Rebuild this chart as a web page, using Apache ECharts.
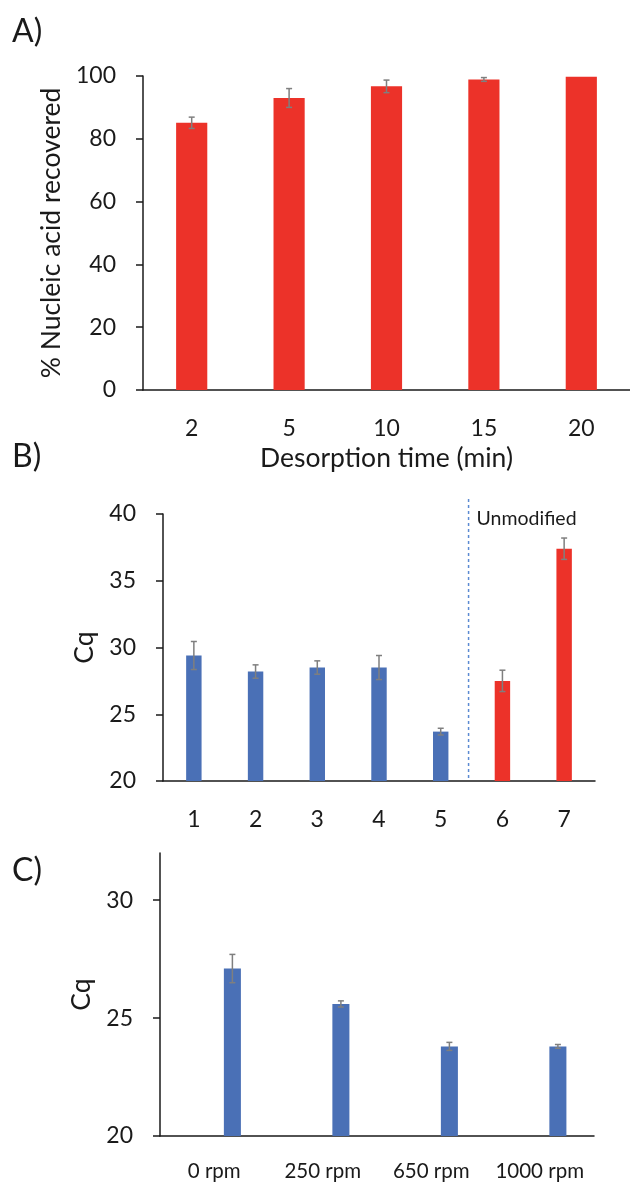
<!DOCTYPE html>
<html>
<head>
<meta charset="utf-8">
<script src="https://cdn.jsdelivr.net/npm/echarts@6/dist/echarts.min.js"></script>
<style>
  html, body { margin: 0; padding: 0; background: #fff; }
  #chart { width: 630px; height: 1182px; }
</style>
</head>
<body>
<div id="chart"></div>
<script>
// A) desorption time
var timeLabels = ['2', '5', '10', '15', '20'];
var recovered = [85.1, 93.0, 96.7, 98.9, 99.8];
var recoveredErr = [1.8, 3.0, 2.0, 0.6, 0];

// B) samples, the last two are unmodified
var sampleLabels = ['1', '2', '3', '4', '5', '6', '7'];
var cqSample = [29.4, 28.2, 28.5, 28.5, 23.7, 27.5, 37.4];
var cqSampleErr = [1.05, 0.5, 0.5, 0.9, 0.25, 0.8, 0.8];
var isUnmodified = [false, false, false, false, false, true, true];

// C) shaking speed
var speedLabels = ['0 rpm', '250 rpm', '650 rpm', '1000 rpm'];
var cqSpeed = [27.1, 25.6, 23.8, 23.8];
var cqSpeedErr = [0.6, 0.13, 0.17, 0.08];
var cqSpeedTicks = [20, 25, 30];

var RED = '#EC3229', BLUE = '#4A70B6', GREY = '#7F7F7F', INK = '#1a1a1a';
var FONT = 'Lato';
var TICK_SIZE = 23, NAME_SIZE = 26.5;

var myChart = echarts.init(document.getElementById('chart'));

// C bars sit right of the category centre (empty first series)
var barWC = 0.157, gapC = 1.13;
var shiftC = barWC * (1 + gapC) / 2;

function errorBars(shiftFrac) {
    return function (params, api) {
        var i = api.value(0), v = api.value(1), e = api.value(2);
        if (!e) return;
        var band = api.size([1, 0])[0];
        var top = api.coord([i, v + e]);
        var bot = api.coord([i, v - e]);
        var x = top[0] + band * shiftFrac;
        var cap = 3;
        var st = { stroke: GREY, lineWidth: 1.5 };
        return {
            type: 'group',
            children: [
                { type: 'line', shape: { x1: x, y1: top[1], x2: x, y2: bot[1] }, style: st },
                { type: 'line', shape: { x1: x - cap, y1: top[1], x2: x + cap, y2: top[1] }, style: st },
                { type: 'line', shape: { x1: x - cap, y1: bot[1], x2: x + cap, y2: bot[1] }, style: st }
            ]
        };
    };
}

function errData(vals, errs) {
    return vals.map(function (v, i) { return [i, v, errs[i]]; });
}

function xAxisOf(idx, labels, size, margin) {
    return {
        type: 'category', gridIndex: idx, data: labels,
        axisTick: { show: false },
        axisLine: { lineStyle: { color: INK, width: 1.5 } },
        axisLabel: {
            color: INK, fontFamily: FONT, fontSize: size, margin: margin,
            interval: 0, hideOverlap: false
        }
    };
}

function yAxisOf(idx, min, max, interval, name, gap) {
    return {
        type: 'value', gridIndex: idx, min: min, max: max, interval: interval,
        name: name, nameLocation: 'middle', nameGap: gap,
        nameTextStyle: { color: INK, fontFamily: FONT, fontSize: NAME_SIZE },
        splitLine: { show: false },
        axisLine: { show: true, lineStyle: { color: INK, width: 1.5 } },
        axisTick: { show: true, length: 7, lineStyle: { color: INK, width: 1.5 } },
        axisLabel: { color: INK, fontFamily: FONT, fontSize: TICK_SIZE, margin: 27 }
    };
}

var firstUnmod = isUnmodified.indexOf(true);

var xA = xAxisOf(0, timeLabels, TICK_SIZE, 27);
xA.name = 'Desorption time (min)';
xA.nameLocation = 'middle';
xA.nameGap = 55;
xA.nameTextStyle = { color: INK, fontFamily: FONT, fontSize: NAME_SIZE };

var yC = yAxisOf(2, 20, 32, 5, 'Cq', 62);
yC.axisLabel.customValues = cqSpeedTicks;
yC.axisTick.customValues = cqSpeedTicks;

var titleStyle = { fontFamily: FONT, fontSize: 32, fontWeight: 'normal', color: INK };

var option = {
    animation: false,
    backgroundColor: '#fff',
    title: [
        { text: 'A)', left: 12, top: 16, padding: 0, textStyle: titleStyle },
        { text: 'B)', left: 12, top: 441, padding: 0, textStyle: titleStyle },
        { text: 'C)', left: 12, top: 855, padding: 0, textStyle: titleStyle }
    ],
    grid: [
        { left: 143, top: 76, width: 487, height: 314 },
        { left: 163, top: 514, width: 432, height: 267 },
        { left: 160, top: 853, width: 434, height: 286 }
    ],
    xAxis: [
        xA,
        xAxisOf(1, sampleLabels, TICK_SIZE, 27),
        xAxisOf(2, speedLabels, 20.5, 25)
    ],
    yAxis: [
        yAxisOf(0, 0, 100, 20, '% Nucleic acid recovered', 75),
        yAxisOf(1, 20, 40, 5, 'Cq', 62),
        yC
    ],
    series: [
        {
            name: 'recovered', type: 'bar', xAxisIndex: 0, yAxisIndex: 0,
            data: recovered, barWidth: '32%',
            itemStyle: { color: RED }
        },
        {
            type: 'custom', xAxisIndex: 0, yAxisIndex: 0, z: 5,
            renderItem: errorBars(0), data: errData(recovered, recoveredErr)
        },
        {
            name: 'Cq', type: 'bar', xAxisIndex: 1, yAxisIndex: 1,
            data: cqSample, barWidth: '25%',
            itemStyle: {
                color: function (p) { return isUnmodified[p.dataIndex] ? RED : BLUE; }
            }
        },
        {
            type: 'custom', xAxisIndex: 1, yAxisIndex: 1, z: 5,
            renderItem: errorBars(0), data: errData(cqSample, cqSampleErr)
        },
        {
            // divider between modified and unmodified samples
            type: 'custom', xAxisIndex: 1, yAxisIndex: 1, z: 4,
            data: [[firstUnmod - 1, 40]],
            renderItem: function (params, api) {
                var a = api.coord([api.value(0), api.value(1)]);
                var b = api.coord([api.value(0) + 1, 20]);
                var x = (a[0] + b[0]) / 2 - 3;
                return {
                    type: 'group',
                    children: [
                        {
                            type: 'line',
                            shape: { x1: x, y1: a[1] - 15, x2: x, y2: b[1] },
                            style: { stroke: '#5B8AD2', lineWidth: 1.5, lineDash: [3, 3] }
                        },
                        {
                            type: 'text',
                            x: x + 8, y: a[1] + 5,
                            style: {
                                text: 'Unmodified', fill: INK, font: '19.5px ' + FONT,
                                verticalAlign: 'middle', align: 'left'
                            }
                        }
                    ]
                };
            }
        },
        {
            type: 'bar', xAxisIndex: 2, yAxisIndex: 2,
            data: speedLabels.map(function () { return '-'; }),
            barWidth: (barWC * 100) + '%', barGap: (gapC * 100) + '%'
        },
        {
            name: 'Cq speed', type: 'bar', xAxisIndex: 2, yAxisIndex: 2,
            data: cqSpeed, barWidth: (barWC * 100) + '%', barGap: (gapC * 100) + '%',
            itemStyle: { color: BLUE }
        },
        {
            type: 'custom', xAxisIndex: 2, yAxisIndex: 2, z: 5,
            renderItem: errorBars(shiftC), data: errData(cqSpeed, cqSpeedErr)
        }
    ]
};

myChart.setOption(option);
window.addEventListener('resize', function () {
    myChart.resize();
});
</script>
</body>
</html>
